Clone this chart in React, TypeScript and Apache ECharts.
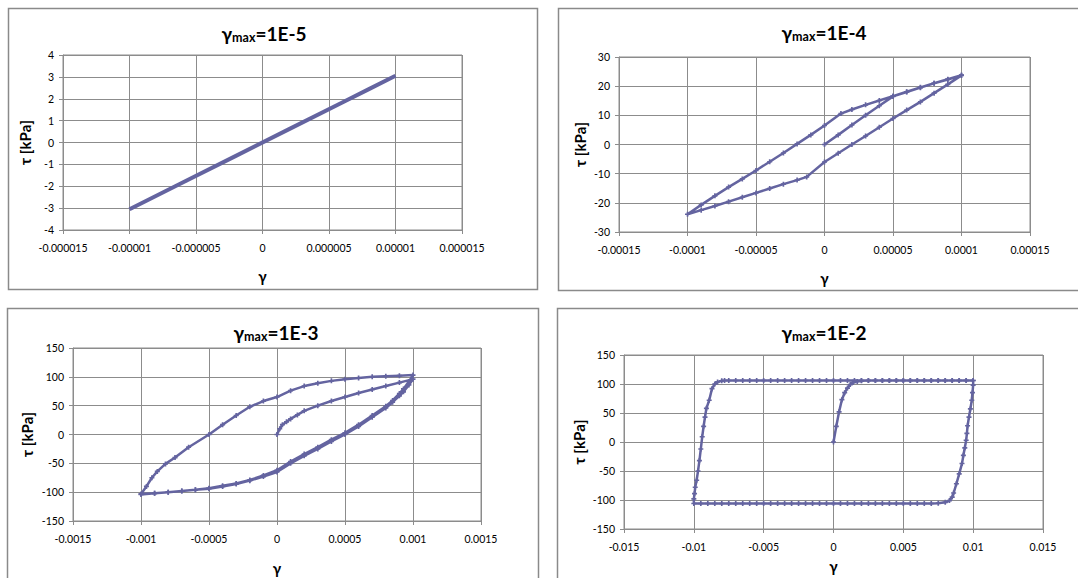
import React, { useEffect, useRef } from 'react';
import * as echarts from 'echarts';

// ---------- Panel 1: γmax = 1E-5 ----------
const gamma1 = [0, 0.000002, 0.000004, 0.000006, 0.000008, 0.00001, 0.000006, 0.000002, -0.000002, -0.000006, -0.00001, -0.000006, -0.000002, 0.000002, 0.000006, 0.00001];
const tau1 = [0, 0.61, 1.22, 1.83, 2.44, 3.05, 1.83, 0.61, -0.61, -1.83, -3.05, -1.83, -0.61, 0.61, 1.83, 3.05];
const xTicks1 = ['-0.000015', '-0.00001', '-0.000005', '0', '0.000005', '0.00001', '0.000015'];
const yTicks1 = ['-4', '-3', '-2', '-1', '0', '1', '2', '3', '4'];

// ---------- Panel 2: γmax = 1E-4 ----------
const gamma2 = [
  0, 0.00001, 0.00002, 0.00003, 0.00004, 0.00005, 0.00006, 0.00007, 0.00008, 0.00009, 0.0001,
  0.00009, 0.00008, 0.00007, 0.00006, 0.00005, 0.00004, 0.00003, 0.00002, 0.00001, 0, -0.000013, -0.00002, -0.00003, -0.00004, -0.00005, -0.00006, -0.00007, -0.00008, -0.00009, -0.0001,
  -0.00009, -0.00008, -0.00007, -0.00006, -0.00005, -0.00004, -0.00003, -0.00002, -0.00001, 0, 0.000012, 0.00002, 0.00003, 0.00004, 0.00005, 0.00006, 0.00007, 0.00008, 0.00009, 0.0001,
];
const tau2 = [
  0, 3.3, 6.7, 10, 13.3, 16.5, 18, 19.5, 21, 22.3, 23.7,
  20.6, 17.6, 14.6, 11.8, 8.9, 5.9, 2.9, 0, -3, -6, -11.1, -12.2, -13.6, -15.1, -16.6, -18.1, -19.6, -21.1, -22.5, -23.9,
  -20.7, -17.6, -14.6, -11.8, -8.9, -5.9, -2.9, 0.2, 3.3, 6.5, 10.6, 12, 13.6, 15.1, 16.6, 18.1, 19.6, 21, 22.4, 23.8,
];
const xTicks2 = ['-0.00015', '-0.0001', '-0.00005', '0', '0.00005', '0.0001', '0.00015'];
const yTicks2 = ['-30', '-20', '-10', '0', '10', '20', '30'];

// ---------- Panel 3: γmax = 1E-3 ----------
const gamma3Initial = [0, 0.00002, 0.00004, 0.00007, 0.0001, 0.00015, 0.0002, 0.0003, 0.0004, 0.0005, 0.0006, 0.0007, 0.0008, 0.0009, 0.001];
const tau3Initial = [0, 10, 17, 22, 27, 34, 41, 50, 58, 65, 72, 78, 84, 90, 96];
const gamma3Unload1 = [0.00097, 0.00093, 0.0009, 0.00085, 0.0008, 0.0007, 0.0006, 0.0005, 0.0004, 0.0003, 0.0002, 0.0001, 0, -0.0001, -0.0002, -0.0003, -0.0004, -0.0005, -0.0006, -0.0007, -0.0008, -0.0009, -0.001];
const tau3Unload1 = [86, 74, 67, 56, 46, 30, 14, 0, -12, -25, -37, -50, -65, -73, -80, -86, -90, -94, -96, -98, -100, -102, -103];
const gamma3Reload = [-0.00096, -0.00092, -0.00088, -0.00082, -0.00075, -0.00065, -0.0005, -0.0004, -0.0003, -0.0002, -0.0001, 0, 0.0001, 0.0002, 0.0003, 0.0004, 0.0005, 0.0006, 0.0007, 0.0008, 0.0009, 0.001];
const tau3Reload = [-90, -75, -64, -51, -40, -22, 0, 17, 33, 48, 58, 65, 76, 84, 89, 93, 96, 98, 100, 101, 102, 103];
const gamma3Unload2 = [0.00097, 0.00093, 0.0009, 0.00085, 0.0008, 0.0007, 0.0006, 0.0005, 0.0004, 0.0003, 0.0002, 0.0001, 0, -0.0001, -0.0002, -0.0003, -0.0004, -0.0005, -0.0006, -0.0007, -0.0008, -0.0009, -0.001];
const tau3Unload2 = [92, 79, 71, 59, 49, 33, 17, 3, -9, -22, -34, -47, -62, -71, -79, -85, -89, -93, -96, -98, -100, -102, -104];
const xTicks3 = ['-0.0015', '-0.001', '-0.0005', '0', '0.0005', '0.001', '0.0015'];
const yTicks3 = ['-150', '-100', '-50', '0', '50', '100', '150'];

// ---------- Panel 4: γmax = 1E-2 ----------
const gamma4Initial = [0, 0.0002, 0.0004, 0.0006, 0.0008, 0.001, 0.0012, 0.0014, 0.0017, 0.002];
const tau4Initial = [0, 27, 52, 73, 85, 93, 99, 102.5, 104.5, 105.5];
const gamma4TopFlat1 = [0.0025, 0.003, 0.0035, 0.004, 0.0045, 0.005, 0.0055, 0.006, 0.0065, 0.007, 0.0075, 0.008, 0.0085, 0.009, 0.0095, 0.01];
const tau4Top = 106;
const gamma4Descend = [0.01, 0.00995, 0.0099, 0.0098, 0.0097, 0.0096, 0.00955, 0.0095, 0.0094, 0.0093, 0.0092, 0.009, 0.0088, 0.0086, 0.0085, 0.0083, 0.008, 0.0075];
const tau4Descend = [98, 85, 72, 57, 43, 28, 15, 3, -10, -23, -37, -55, -72, -88, -95, -101, -104, -105.5];
const gamma4BottomFlat = [0.007, 0.0065, 0.006, 0.0055, 0.005, 0.0045, 0.004, 0.0035, 0.003, 0.0025, 0.002, 0.0015, 0.001, 0.0005, 0, -0.0005, -0.001, -0.0015, -0.002, -0.0025, -0.003, -0.0035, -0.004, -0.0045, -0.005, -0.0055, -0.006, -0.0065, -0.007, -0.0075, -0.008, -0.0085, -0.009, -0.0095, -0.01];
const tau4Bottom = -106;
const gamma4Ascend = [-0.01, -0.00995, -0.0099, -0.0098, -0.0097, -0.0096, -0.0095, -0.0094, -0.0093, -0.0092, -0.0091, -0.0089, -0.0087, -0.0085, -0.0083, -0.008, -0.0078];
const tau4Ascend = [-98, -89, -78, -66, -50, -32, -12, 9, 27, 43, 58, 72, 92, 100, 103.6, 105.5, 106];
const gamma4TopFlat2 = [-0.0075, -0.007, -0.0065, -0.006, -0.0055, -0.005, -0.0045, -0.004, -0.0035, -0.003, -0.0025, -0.002, -0.0015, -0.001, -0.0005, 0, 0.0005, 0.001, 0.0015, 0.002, 0.0025, 0.003, 0.0035, 0.004, 0.0045, 0.005, 0.0055, 0.006, 0.0065, 0.007, 0.0075, 0.008, 0.0085, 0.009, 0.0095, 0.01];
const xTicks4 = ['-0.015', '-0.01', '-0.005', '0', '0.005', '0.01', '0.015'];
const yTicks4 = ['-150', '-100', '-50', '0', '50', '100', '150'];

const titles = ['=1E-5', '=1E-4', '=1E-3', '=1E-2'];

const zip = (g: number[], t: number[]) => g.map((v, i) => [v, t[i]]);
const flat = (g: number[], t: number) => g.map((v) => [v, t]);

const FONT = 'Lato, "Open Sans", sans-serif';
const LINE = '#6464A0';
const GRIDC = '#8C8C8C';

export default function App() {
  const ref = useRef<HTMLDivElement>(null);
  useEffect(() => {
    document.body.style.margin = '0';
    document.body.style.overflow = 'hidden';
    if (!ref.current) return;
    const chart = echarts.init(ref.current, undefined, { renderer: 'svg' });

    const data = [
      zip(gamma1, tau1),
      zip(gamma2, tau2),
      [
        ...zip(gamma3Initial, tau3Initial),
        ...zip(gamma3Unload1, tau3Unload1),
        ...zip(gamma3Reload, tau3Reload),
        ...zip(gamma3Unload2, tau3Unload2),
      ],
      [
        ...zip(gamma4Initial, tau4Initial),
        ...flat(gamma4TopFlat1, tau4Top),
        ...zip(gamma4Descend, tau4Descend),
        ...flat(gamma4BottomFlat, tau4Bottom),
        ...zip(gamma4Ascend, tau4Ascend),
        ...flat(gamma4TopFlat2, tau4Top),
      ],
    ];

    const layout = [
      { box: [8, 8, 529, 281], grid: [63, 55, 399, 175], xr: [-0.000015, 0.000015, 0.000005], yr: [-4, 4, 1], xt: xTicks1, yt: yTicks1, title: [264, 33], yGap: 31, xGap: 38 },
      { box: [558, 8, 530, 282], grid: [619, 57, 411, 175], xr: [-0.00015, 0.00015, 0.00005], yr: [-30, 30, 10], xt: xTicks2, yt: yTicks2, title: [824, 32], yGap: 32, xGap: 38 },
      { box: [7, 308, 531, 290], grid: [73, 348, 408, 173], xr: [-0.0015, 0.0015, 0.0005], yr: [-150, 150, 50], xt: xTicks3, yt: yTicks3, title: [276, 332], yGap: 39, xGap: 39 },
      { box: [557, 308, 530, 290], grid: [624, 355, 419, 174], xr: [-0.015, 0.015, 0.005], yr: [-150, 150, 50], xt: xTicks4, yt: yTicks4, title: [824, 332], yGap: 38, xGap: 29 },
    ];

    const graphics: any[] = [];
    layout.forEach((l, i) => {
      graphics.push({
        type: 'rect',
        z: -10,
        shape: { x: l.box[0] + 0.5, y: l.box[1] + 0.5, width: l.box[2], height: l.box[3] },
        style: { fill: '#fff', stroke: '#8a8a8a', lineWidth: 1.5 },
      });
      graphics.push({
        type: 'text',
        x: l.title[0],
        y: l.title[1],
        style: {
          text: '{g|γ}{s|max}{g|' + titles[i] + '}',
          align: 'center',
          verticalAlign: 'middle',
          rich: {
            g: { fontSize: 19, fontWeight: 'bold', fontFamily: FONT, fill: '#000', lineHeight: 22 },
            s: { fontSize: 12.5, fontWeight: 'bold', fontFamily: FONT, fill: '#000', lineHeight: 13, verticalAlign: 'bottom' },
          },
        },
      });
    });

    const option: any = {
      animation: false,
      backgroundColor: '#fff',
      grid: layout.map((l) => ({
        left: l.grid[0], top: l.grid[1], width: l.grid[2], height: l.grid[3],
        show: true, borderColor: GRIDC, borderWidth: 1, backgroundColor: 'transparent',
      })),
      xAxis: layout.map((l, i) => ({
        type: 'value', gridIndex: i, min: l.xr[0], max: l.xr[1], interval: l.xr[2],
        name: 'γ', nameLocation: 'middle', nameGap: l.xGap,
        nameTextStyle: { fontWeight: 'bold', fontSize: 15, fontFamily: FONT, color: '#000' },
        axisLine: { show: true, onZero: false, lineStyle: { color: GRIDC, width: 1 } },
        axisTick: { show: true, length: 4, lineStyle: { color: GRIDC } },
        splitLine: { show: true, lineStyle: { color: GRIDC, width: 1 } },
        axisLabel: {
          margin: 12, fontSize: 10.5, fontFamily: FONT, color: '#000', showMinLabel: true, showMaxLabel: true,
          formatter: (v: number) => l.xt[Math.round((v - l.xr[0]) / l.xr[2])] ?? '',
        },
      })),
      yAxis: layout.map((l, i) => ({
        type: 'value', gridIndex: i, min: l.yr[0], max: l.yr[1], interval: l.yr[2],
        name: 'τ [kPa]', nameLocation: 'middle', nameGap: l.yGap,
        nameTextStyle: { fontWeight: 'bold', fontSize: 15, fontFamily: FONT, color: '#000' },
        axisLine: { show: true, onZero: false, lineStyle: { color: GRIDC, width: 1 } },
        axisTick: { show: true, length: 4, lineStyle: { color: GRIDC } },
        splitLine: { show: true, lineStyle: { color: GRIDC, width: 1 } },
        axisLabel: {
          margin: 9, fontSize: 10.5, fontFamily: FONT, color: '#000', showMinLabel: true, showMaxLabel: true,
          formatter: (v: number) => l.yt[Math.round((v - l.yr[0]) / l.yr[2])] ?? '',
        },
      })),
      series: data.map((d, i) => ({
        type: 'line',
        xAxisIndex: i,
        yAxisIndex: i,
        data: d,
        silent: true,
        showSymbol: i !== 0,
        symbol: 'path://M2,0h2v6h-2zM0,2h6v2h-6z',
        symbolSize: 5,
        lineStyle: { color: LINE, width: i === 0 ? 4 : 2.5 },
        itemStyle: { color: LINE },
      })),
      graphic: graphics,
    };
    chart.setOption(option);
    return () => chart.dispose();
  }, []);
  return <div ref={ref} style={{ width: 1078, height: 578 }} />;
}
